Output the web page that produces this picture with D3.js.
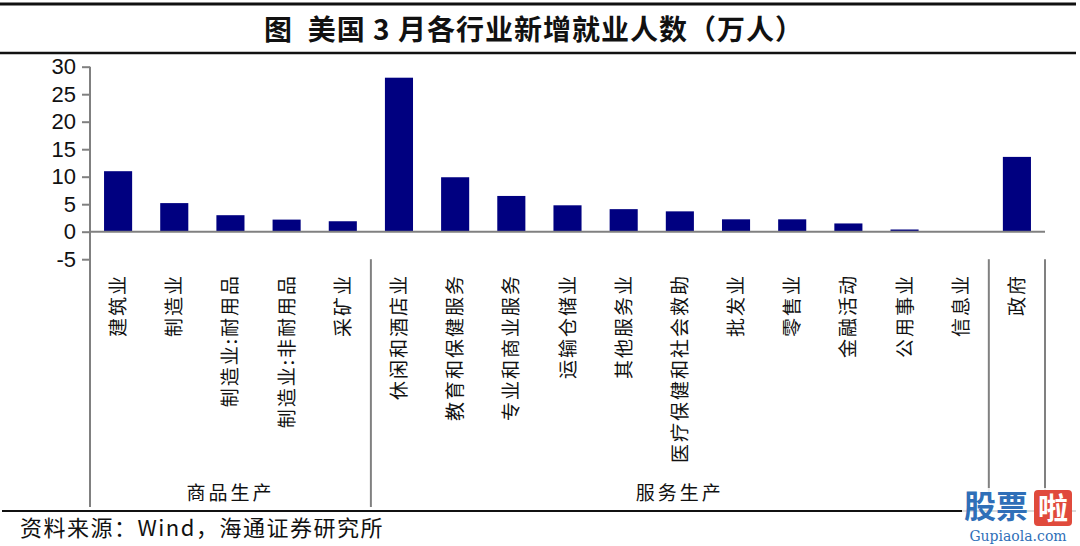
<!DOCTYPE html>
<html>
<head>
<meta charset="utf-8">
<script src="https://cdn.jsdelivr.net/npm/d3@7"></script>
<style>
  body { margin: 0; background: #fff; }
  svg { display: block; }
  .cjk { font-family: "Noto Sans CJK SC", sans-serif; }
</style>
</head>
<body>
<svg id="chart" width="1080" height="546"></svg>
<script>
// categories and values (万人)
const categories = ["建筑业", "制造业", "制造业:耐用品", "制造业:非耐用品", "采矿业",
  "休闲和酒店业", "教育和保健服务", "专业和商业服务", "运输仓储业", "其他服务业",
  "医疗保健和社会救助", "批发业", "零售业", "金融活动", "公用事业", "信息业", "政府"];
const values = [11.0, 5.2, 3.0, 2.2, 1.9, 28.0, 9.9, 6.5, 4.8, 4.1, 3.7, 2.25, 2.25, 1.5, 0.4, 0, 13.6];
const yTicks = [-5, 0, 5, 10, 15, 20, 25, 30];
const groups = [
  { name: "商品生产", from: 0, to: 5 },
  { name: "服务生产", from: 5, to: 16 },
  { name: "", from: 16, to: 17 }
];

const svg = d3.select('#chart');

// rules and title
svg.append('line').attr('x1', 0).attr('x2', 1076).attr('y1', 4).attr('y2', 4)
  .attr('stroke', '#111').attr('stroke-width', 3);
svg.append('line').attr('x1', 0).attr('x2', 1076).attr('y1', 53).attr('y2', 53)
  .attr('stroke', '#111').attr('stroke-width', 2.5);
svg.append('text').attr('class', 'cjk')
  .attr('x', 534).attr('y', 40)
  .attr('text-anchor', 'middle')
  .attr('font-size', 28).attr('font-weight', 'bold').attr('fill', '#111')
  .attr('letter-spacing', 1)
  .attr('xml:space', 'preserve')
  .text('图  美国 3 月各行业新增就业人数（万人）');

// scales
const x = d3.scaleBand()
  .domain(categories)
  .range([90, 1045])
  .paddingInner(0.5)
  .paddingOuter(0.25);

const y = d3.scaleLinear()
  .domain([-5, 30])
  .range([259.2, 66.7]);

const step = x.step();
const x0 = 90;

// y axis
const yAxis = svg.append('g')
  .attr('transform', 'translate(90,0)')
  .call(d3.axisLeft(y).tickValues(yTicks).tickSize(8).tickPadding(6).tickFormat(d => String(d)));
yAxis.select('.domain').remove();
yAxis.selectAll('.tick line').attr('stroke', '#808080').attr('stroke-width', 2);
yAxis.selectAll('.tick text')
  .attr('font-family', '"Liberation Sans", Arial, sans-serif')
  .attr('font-size', 22).attr('fill', '#111');

// left axis line down to the group area
svg.append('line').attr('x1', 90).attr('x2', 90)
  .attr('y1', y(30)).attr('y2', 507)
  .attr('stroke', '#808080').attr('stroke-width', 2);

// bars
svg.selectAll('.bar')
  .data(categories.map((c, i) => ({ c, v: values[i] })))
  .join('rect')
  .attr('class', 'bar')
  .attr('x', d => x(d.c))
  .attr('width', x.bandwidth())
  .attr('y', d => y(Math.max(0, d.v)))
  .attr('height', d => Math.abs(y(d.v) - y(0)))
  .attr('fill', '#000080');

// zero line
svg.append('line').attr('x1', 90).attr('x2', 1045)
  .attr('y1', y(0)).attr('y2', y(0))
  .attr('stroke', '#808080').attr('stroke-width', 2);

// group separators
const seps = [5, 16, 17];
svg.selectAll('.sep')
  .data(seps)
  .join('line')
  .attr('class', 'sep')
  .attr('x1', d => x0 + d * step).attr('x2', d => x0 + d * step)
  .attr('y1', y(-5)).attr('y2', 507)
  .attr('stroke', '#808080').attr('stroke-width', 2);

// category labels (rotated)
svg.selectAll('.cat')
  .data(categories)
  .join('text')
  .attr('class', 'cat cjk')
  .attr('transform', d => `translate(${x(d) + x.bandwidth() / 2 + 7},274) rotate(-90)`)
  .attr('text-anchor', 'end')
  .attr('font-size', 19)
  .attr('letter-spacing', 2)
  .attr('fill', '#111')
  .text(d => d);

// group labels
svg.selectAll('.grp')
  .data(groups.filter(g => g.name))
  .join('text')
  .attr('class', 'grp cjk')
  .attr('x', g => x0 + (g.from + g.to) / 2 * step)
  .attr('y', 500)
  .attr('text-anchor', 'middle')
  .attr('font-size', 19)
  .attr('letter-spacing', 3)
  .attr('fill', '#111')
  .text(g => g.name);

// bottom rule and source
svg.append('line').attr('x1', 2).attr('x2', 1076).attr('y1', 511).attr('y2', 511)
  .attr('stroke', '#111').attr('stroke-width', 2);
svg.append('text').attr('class', 'cjk')
  .attr('x', 20).attr('y', 536)
  .attr('font-size', 22).attr('fill', '#111')
  .attr('letter-spacing', 1.5)
  .text('资料来源：Wind，海通证券研究所');

// watermark
const wm = svg.append('g').attr('transform', 'translate(962,488)');
wm.append('rect').attr('x', 0).attr('y', 0).attr('width', 115).attr('height', 56).attr('fill', '#fff').attr('opacity', 0.85);
wm.append('text').attr('class', 'cjk').attr('x', 2).attr('y', 30)
  .attr('font-size', 32).attr('font-weight', 'bold').attr('fill', '#2f6fb8')
  .text('股票');
wm.append('rect').attr('x', 72).attr('y', 2).attr('width', 38).attr('height', 36).attr('rx', 4).attr('fill', '#e04a3c');
wm.append('text').attr('class', 'cjk').attr('x', 91).attr('y', 31)
  .attr('text-anchor', 'middle')
  .attr('font-size', 30).attr('font-weight', 'bold').attr('fill', '#fff')
  .text('啦');
wm.append('text').attr('x', 56).attr('y', 53)
  .attr('text-anchor', 'middle')
  .attr('font-family', '"DejaVu Serif", serif')
  .attr('font-size', 14).attr('fill', '#2f6fb8')
  .text('Gupiaola.com');
</script>
</body>
</html>
